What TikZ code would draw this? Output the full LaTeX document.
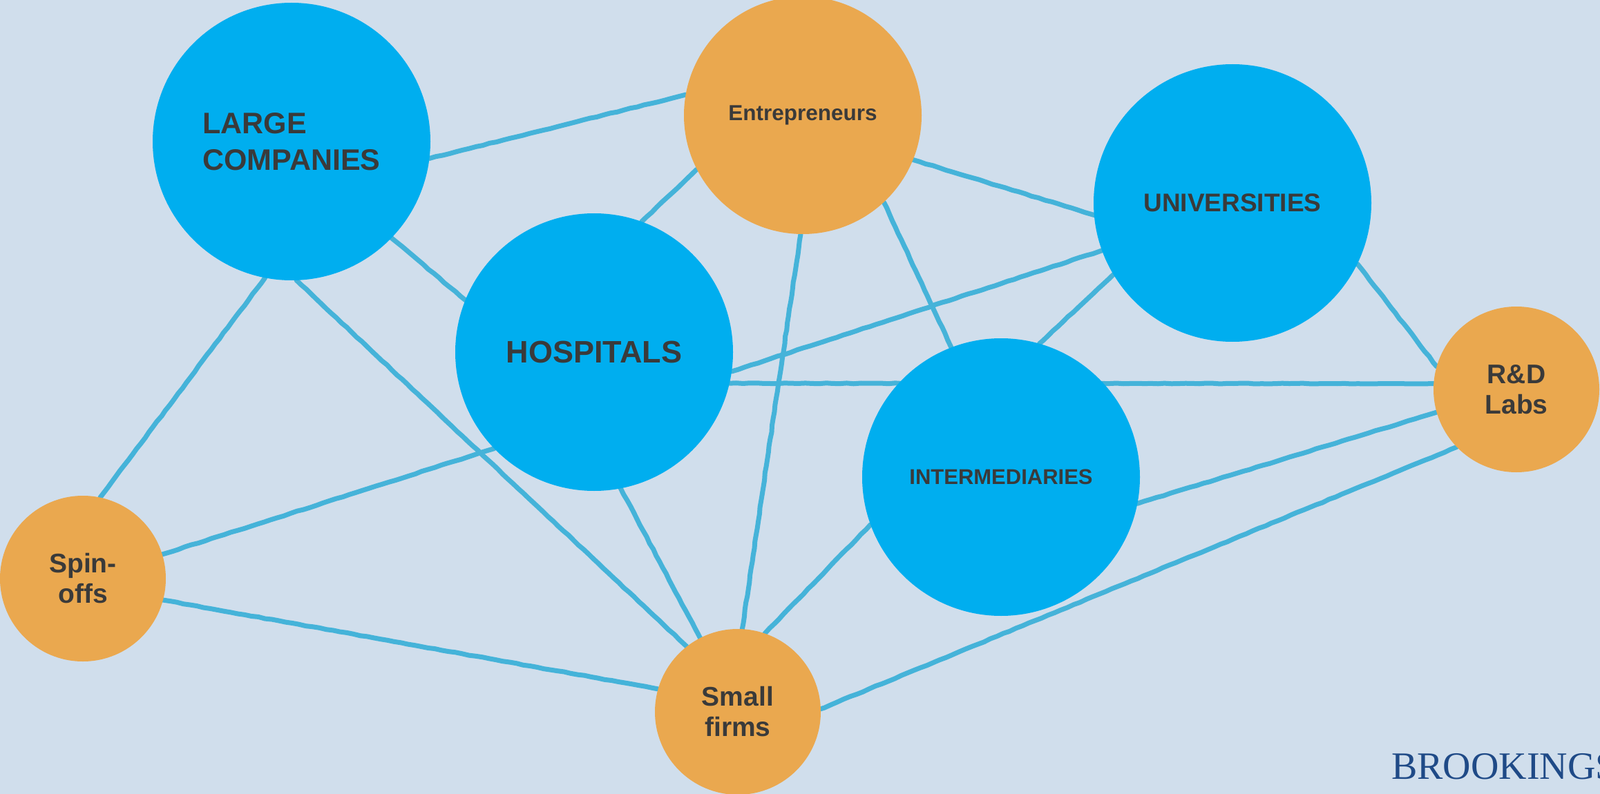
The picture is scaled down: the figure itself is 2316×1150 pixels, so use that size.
\documentclass[tikz,border=0pt]{standalone}
\usepackage{fontspec}
\setmainfont{Liberation Sans}
\newfontfamily\brookingsfont{Liberation Serif}
\usepackage{xcolor}
\usetikzlibrary{decorations.pathmorphing}
\definecolor{bgcolor}{HTML}{D0DEEC}
\definecolor{bluecircle}{HTML}{00AEEF}
\definecolor{orangecircle}{HTML}{EAA84F}
\definecolor{linkcolor}{HTML}{45B3D9}
\definecolor{labelcolor}{HTML}{3A3A3A}
\definecolor{brookingsblue}{HTML}{1F4A87}
\pgfdeclarelayer{background}
\pgfdeclarelayer{edges}
\pgfsetlayers{background,edges,main}

\begin{document}
\begin{tikzpicture}[x = 1pt, y = -1pt,
        bigcircle/.style = {circle, fill = bluecircle, inner sep = 0pt, outer sep = 0pt, minimum size = 402pt, text = labelcolor},
        smallcircle/.style = {circle, fill = orangecircle, inner sep = 0pt, outer sep = 0pt, minimum size = 240pt, text = labelcolor, align = center, font = \fontsize{39}{44}\selectfont\bfseries},
        link/.style = {linkcolor, line width = 7pt, line cap = round, line join = round, decorate, decoration = {random steps, segment length = 10pt, amplitude = 0.5pt}}]

        \begin{pgfonlayer}{background}
            \fill [bgcolor] (0, 0) rectangle (2316, 1150);
        \end{pgfonlayer}
        \useasboundingbox (0, 0) rectangle (2316, 1150);

        % Blue circles
        \node [bigcircle, align = left, font = \fontsize{43}{53}\selectfont\bfseries] (companies) at (422, 205) {LARGE\\COMPANIES};
        \node [bigcircle, font = \fontsize{45}{54}\selectfont\bfseries] (hospitals) at (860, 510) {HOSPITALS};
        \node [bigcircle, font = \fontsize{37}{44}\selectfont\bfseries] (universities) at (1784, 294) {UNIVERSITIES};
        \node [bigcircle, font = \fontsize{31}{37}\selectfont\bfseries] (intermediaries) at (1449, 691) {INTERMEDIARIES};

        % Orange circles
        \node [smallcircle, minimum size = 344pt, font = \fontsize{31.5}{37}\selectfont\bfseries] (entrepreneurs) at (1162, 167) {Entrepreneurs};
        \node [smallcircle] (labs) at (2195, 564) {R\&D\\Labs};
        \node [smallcircle] (spinoffs) at (120, 838) {Spin-\\offs};
        \node [smallcircle] (smallfirms) at (1068, 1031) {Small\\firms};

        \node [anchor = base west, inner sep = 0pt, text = brookingsblue, font = \brookingsfont\fontsize{56}{56}\selectfont] (brookings) at (2014, 1128) {BROOKINGS};

        % Links
        \begin{pgfonlayer}{edges}
            \draw [link] (companies.-7.5) -- (entrepreneurs.170);
            \draw [link] (companies.-44) -- (hospitals.158);
            \draw [link] (companies.-101) -- (spinoffs.78);
            \draw [link] (companies.-88) -- (smallfirms.128);
            \draw [link] (hospitals.70) -- (entrepreneurs.207);
            \draw [link] (entrepreneurs.-22) -- (universities.185);
            \draw [link] (entrepreneurs.-47) -- (intermediaries.111);
            \draw [link] (entrepreneurs.-91.5) -- (smallfirms.87);
            \draw [link] (hospitals.-8.4) -- (universities.200.5);
            \draw [link] (hospitals.-13.7) -- (labs.176.5);
            \draw [link] (hospitals.224) -- (spinoffs.17);
            \draw [link] (hospitals.-79.4) -- (smallfirms.117.5);
            \draw [link] (universities.211.7) -- (intermediaries.74.7);
            \draw [link] (universities.-26.6) -- (labs.164);
            \draw [link] (intermediaries.-11.4) -- (labs.196.8);
            \draw [link] (intermediaries.200.5) -- (smallfirms.71.8);
            \draw [link] (labs.224) -- (smallfirms.2.9);
            \draw [link] (spinoffs.-15) -- (smallfirms.164);
        \end{pgfonlayer}

    \end{tikzpicture}
\end{document}
